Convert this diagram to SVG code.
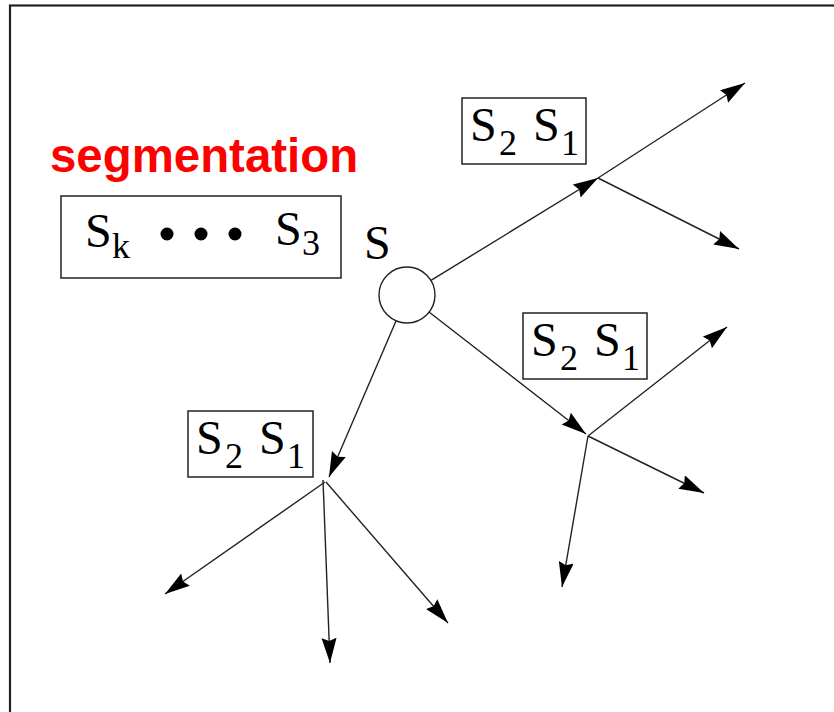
<svg xmlns="http://www.w3.org/2000/svg" width="834" height="712" viewBox="0 0 834 712">
<style>
.box{fill:#fff;stroke:#222;stroke-width:1.5}
.c{stroke:#222;stroke-width:1.4;fill:none}
.t{font-family:"Liberation Serif","Times New Roman",serif;fill:#000;font-size:48px}
.s{font-size:36px}
</style>
<defs>
<marker id="ah" markerUnits="userSpaceOnUse" markerWidth="26" markerHeight="16" refX="25" refY="7.5" orient="auto">
<path d="M0,0 L25,7.5 L0,15 L3,7.5 z" fill="#000"/>
</marker>
</defs>
<rect x="10" y="5.5" width="840" height="720" fill="#fff" stroke="#222" stroke-width="2.2"/>
<text x="50" y="172" font-family="Liberation Sans,Arial,sans-serif" font-weight="bold" font-size="47.4" fill="#f00">segmentation</text>
<g id="queue">
<rect class="box" x="61" y="196" width="280" height="82"/>
<text class="t"><tspan x="85" y="247">S</tspan><tspan class="s" x="112" y="258">k</tspan></text>
<circle cx="167" cy="234" r="6.5"/>
<circle cx="201" cy="234" r="6.5"/>
<circle cx="235" cy="234" r="6.5"/>
<text class="t"><tspan x="275" y="245">S</tspan><tspan class="s" x="302" y="255">3</tspan></text>
</g>
<g id="source">
<circle cx="407" cy="295" r="28" fill="#fff" stroke="#222" stroke-width="1.4"/>
<text class="t" x="364" y="259">S</text>
</g>
<g id="box-top">
<rect class="box" x="462" y="98" width="124" height="66"/>
<text class="t"><tspan x="470" y="141">S</tspan><tspan class="s" x="499" y="155">2</tspan><tspan x="533" y="141">S</tspan><tspan class="s" x="561" y="155">1</tspan></text>
</g>
<g id="box-right">
<rect class="box" x="523" y="313" width="124" height="66"/>
<text class="t"><tspan x="531" y="356">S</tspan><tspan class="s" x="560" y="370">2</tspan><tspan x="594" y="356">S</tspan><tspan class="s" x="622" y="370">1</tspan></text>
</g>
<g id="box-left">
<rect class="box" x="188" y="411" width="125" height="66"/>
<text class="t"><tspan x="196" y="454">S</tspan><tspan class="s" x="225" y="468">2</tspan><tspan x="259" y="454">S</tspan><tspan class="s" x="287" y="468">1</tspan></text>
</g>
<g id="connectors" class="c">
<line x1="431" y1="280.4" x2="598" y2="178" marker-end="url(#ah)"/>
<line x1="598" y1="178" x2="745" y2="83" marker-end="url(#ah)"/>
<line x1="598" y1="178" x2="739" y2="249" marker-end="url(#ah)"/>
<line x1="429" y1="312" x2="586" y2="434" marker-end="url(#ah)"/>
<line x1="588" y1="436" x2="727" y2="327" marker-end="url(#ah)"/>
<line x1="588" y1="436" x2="704" y2="493" marker-end="url(#ah)"/>
<line x1="588" y1="436" x2="562" y2="587" marker-end="url(#ah)"/>
<line x1="396" y1="321" x2="329" y2="477" marker-end="url(#ah)"/>
<line x1="325" y1="482" x2="165" y2="594" marker-end="url(#ah)"/>
<line x1="323" y1="480" x2="330" y2="663" marker-end="url(#ah)"/>
<line x1="326" y1="482" x2="448" y2="623" marker-end="url(#ah)"/>
</g>
</svg>
